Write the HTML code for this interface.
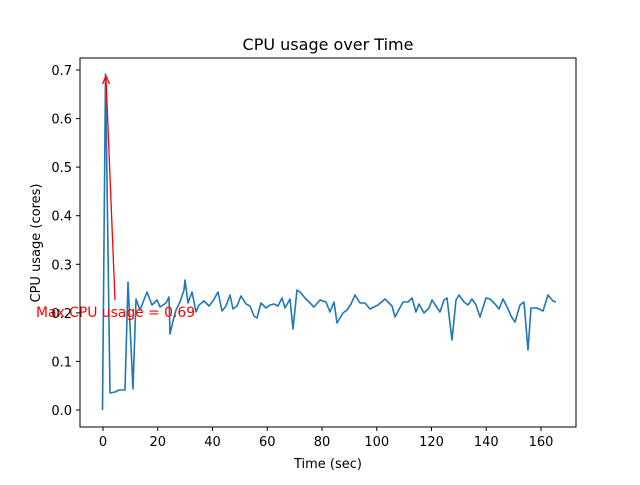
<!DOCTYPE html>
<html><head><style>body{margin:0;background:#fff}</style></head><body>
<svg width="640" height="480" xmlns="http://www.w3.org/2000/svg" font-family="DejaVu Sans, Liberation Sans, sans-serif">
<rect width="640" height="480" fill="#fff"/>
<text x="328" y="50" font-size="16" text-anchor="middle">CPU usage over Time</text>
<polyline fill="none" stroke="#1f77b4" stroke-width="1.6" stroke-linejoin="round" points="102.5,410 105.5,74 110,393 115,392 119,390 125,390 128,282 133,389 136,299 140,310 147,292 152,305 157,300 160,307 166,303 169,297 170,334 173,321 176,310 180,302 184,290 185,280 188,303 192,292 196,312 199,305 204,301 209,306 213,301 218,292 222,311 226,306 230,295 233,309 237,306 241,296 246,304 250,306 254,316 257,318 261,303 266,308 270,305 274,304 278,306 282,298 285,308 290,299 293,329 297,290 300,292 305,298 314,307 320,300 326,302 330,312 334,302 337,323 343,313 347,310 351,304 355,295 360,303 365,303 370,309 378,305 385,299 392,306 395,317 403,302 408,302 412,298 416,312 419,304 424,313 429,308 432,300 440,312 444,300 447,298 452,340 456,300 459,295 464,302 468,305 472,299 476,305 480,317 486,298 490,299 495,304 499,309 503,299 508,309 511,316 515,322 520,305 524,302 528,350 531,308 537,308 543,311 548,295 553,301 556,302"/>
<line x1="115" y1="300" x2="106" y2="78" stroke="red" stroke-width="1.3"/>
<polyline points="102.5,84 106,76 109.5,84" fill="none" stroke="red" stroke-width="1.3"/>
<text x="36" y="317" font-size="13.9" fill="red">Max CPU usage = 0.69</text>
<rect x="80" y="58" width="496" height="369" fill="none" stroke="#000" stroke-width="1"/>
<g stroke="#000" stroke-width="1">
<line x1="103" y1="427" x2="103" y2="431"/><line x1="157.75" y1="427" x2="157.75" y2="431"/><line x1="212.5" y1="427" x2="212.5" y2="431"/><line x1="267.25" y1="427" x2="267.25" y2="431"/><line x1="322" y1="427" x2="322" y2="431"/><line x1="376.75" y1="427" x2="376.75" y2="431"/><line x1="431.5" y1="427" x2="431.5" y2="431"/><line x1="486.25" y1="427" x2="486.25" y2="431"/><line x1="541" y1="427" x2="541" y2="431"/>
<line x1="76" y1="410" x2="80" y2="410"/><line x1="76" y1="361.4" x2="80" y2="361.4"/><line x1="76" y1="312.9" x2="80" y2="312.9"/><line x1="76" y1="264.3" x2="80" y2="264.3"/><line x1="76" y1="215.7" x2="80" y2="215.7"/><line x1="76" y1="167.1" x2="80" y2="167.1"/><line x1="76" y1="118.6" x2="80" y2="118.6"/><line x1="76" y1="70" x2="80" y2="70"/>
</g>
<g font-size="13" text-anchor="middle">
<text x="103" y="446">0</text><text x="157.75" y="446">20</text><text x="212.5" y="446">40</text><text x="267.25" y="446">60</text><text x="322" y="446">80</text><text x="376.75" y="446">100</text><text x="431.5" y="446">120</text><text x="486.25" y="446">140</text><text x="541" y="446">160</text>
</g>
<g font-size="13" text-anchor="end">
<text x="72" y="415">0.0</text><text x="72" y="366.4">0.1</text><text x="72" y="317.9">0.2</text><text x="72" y="269.3">0.3</text><text x="72" y="220.7">0.4</text><text x="72" y="172.1">0.5</text><text x="72" y="123.6">0.6</text><text x="72" y="75">0.7</text>
</g>
<text x="328" y="468" font-size="13" text-anchor="middle">Time (sec)</text>
<text transform="translate(40,243) rotate(-90)" font-size="13" text-anchor="middle">CPU usage (cores)</text>
</svg>
</body></html>
